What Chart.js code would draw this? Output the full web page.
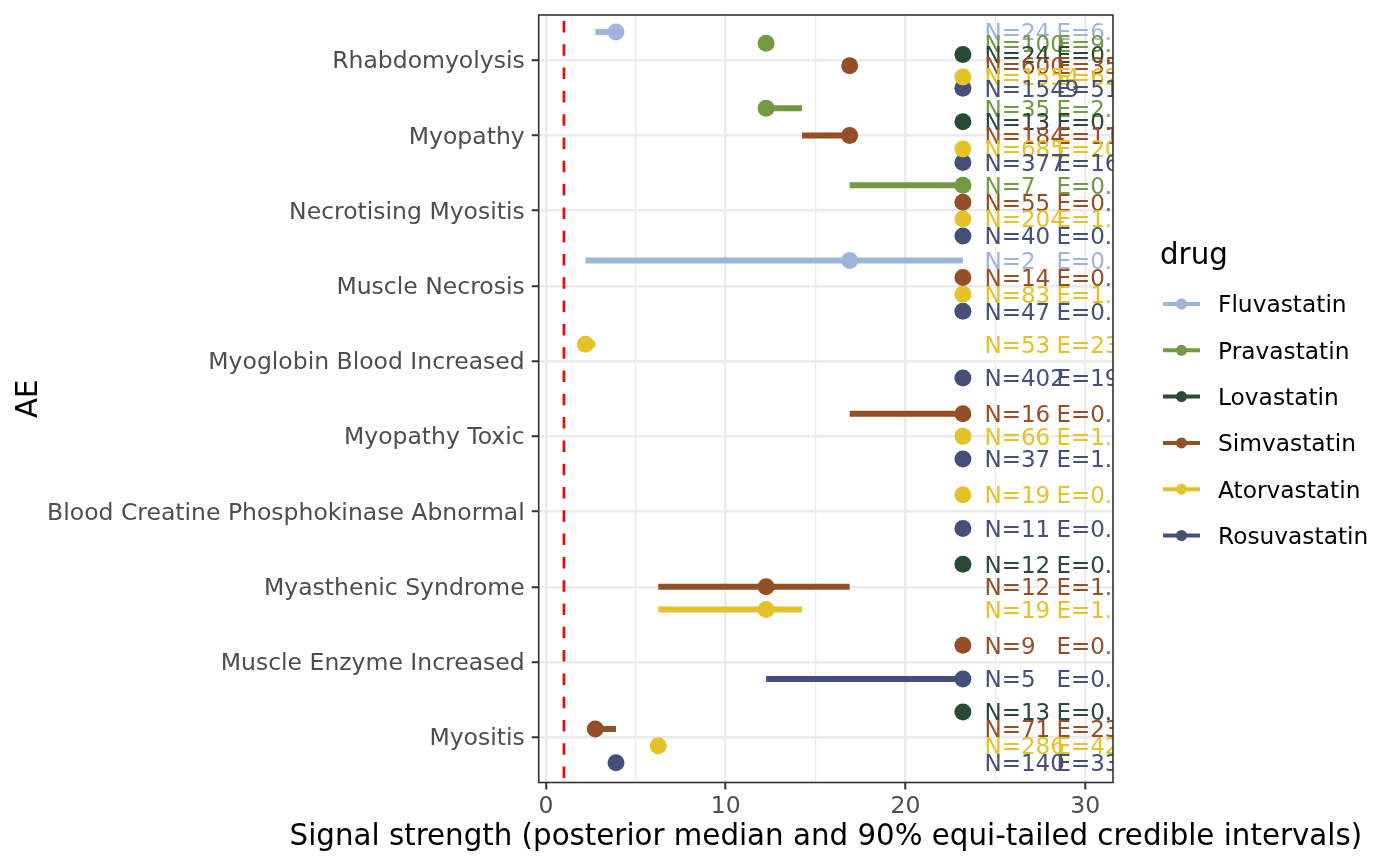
<!DOCTYPE html>
<html><head><meta charset="utf-8">
<script src="https://cdn.jsdelivr.net/npm/chart.js@4.4.1/dist/chart.umd.min.js"></script>
<style>html,body{margin:0;padding:0;background:#fff;} canvas{display:block;}</style>
</head><body>
<canvas id="c" width="1400" height="866"></canvas>
<script>
const categories = ["Rhabdomyolysis","Myopathy","Necrotising Myositis","Muscle Necrosis","Myoglobin Blood Increased","Myopathy Toxic","Blood Creatine Phosphokinase Abnormal","Myasthenic Syndrome","Muscle Enzyme Increased","Myositis"];
const drugs = ["Fluvastatin","Pravastatin","Lovastatin","Simvastatin","Atorvastatin","Rosuvastatin"];
const drugColors = ["#9EB4DB","#729A41","#294A37","#954F26","#E5C12A","#45507A"];
const xTicks = [0,5,10,15,20,25,30];
const xMajor = [0,10,20,30];
const refLine = 1;
const labelNX = 24.4;
const labelEX = 28.4;
const xTitle = "Signal strength (posterior median and 90% equi-tailed credible intervals)";
const yTitle = "AE";
const legendTitle = "drug";

// one entry per (AE, drug) record
const recAE =     [0,0,0,0,0,0, 1,1,1,1,1, 2,2,2,2, 3,3,3,3, 4,4, 5,5,5, 6,6, 7,7,7, 8,8, 9,9,9,9];
const recDrug =   [0,1,2,3,4,5, 1,2,3,4,5, 1,3,4,5, 0,3,4,5, 4,5, 3,4,5, 4,5, 2,3,4, 3,5, 2,3,4,5];
const recMedian = [3.9,12.25,23.2,16.9,23.2,23.2, 12.25,23.2,16.9,23.2,23.2, 23.2,23.2,23.2,23.2, 16.9,23.2,23.2,23.2, 2.2,23.2, 23.2,23.2,23.2, 23.2,23.2, 23.2,12.25,12.25, 23.2,23.2, 23.2,2.75,6.25,3.9];
const recLow =    [2.75,12.25,23.2,16.9,23.2,23.2, 12.25,23.2,14.25,23.2,23.2, 16.9,23.2,23.2,23.2, 2.2,23.2,23.2,23.2, 2.2,23.2, 16.9,23.2,23.2, 23.2,23.2, 23.2,6.25,6.25, 23.2,12.25, 23.2,2.75,6.25,3.9];
const recHigh =   [3.9,12.25,23.2,16.9,23.2,23.2, 14.25,23.2,16.9,23.2,23.2, 23.2,23.2,23.2,23.2, 23.2,23.2,23.2,23.2, 2.75,23.2, 23.2,23.2,23.2, 23.2,23.2, 23.2,16.9,14.25, 23.2,23.2, 23.2,3.9,6.25,3.9];
const recN =      [24,100,24,600,1554,1549, 35,13,184,685,377, 7,55,204,40, 2,14,83,47, 53,402, 16,66,37, 19,11, 12,12,19, 9,5, 13,71,286,140];
const recE =      ["6.15","9.42","0.87","35.5","62.1","51.3", "2.71","0.59","11.3","20.4","16.8", "0.22","0.91","1.63","0.74", "0.08","0.38","1.21","0.66", "23.4","19.5", "0.41","1.54","1.12", "0.53","0.46", "0.37","1.08","1.35", "0.27","0.18", "0.71","23.7","42.6","33.8"];

const FONT = "'DejaVu Sans'";
Chart.defaults.font.family = FONT;

// dodge positions (width 0.9) within each AE
const recPos = recAE.map((ae, k) => {
  const group = recAE.map((a, j) => a === ae ? j : -1).filter(j => j >= 0);
  const n = group.length, i = group.indexOf(k);
  return (ae + 1) + (i - (n - 1) / 2) * 0.9 / n;
});

const datasets = [];
datasets.push({type:'line', data:[{x:refLine,y:0.4},{x:refLine,y:10.6}], borderColor:'#FF0000', borderWidth:2.6,
  borderDash:[11.5,11.8], borderDashOffset:17.3, pointRadius:0, order:100});
recAE.forEach((ae, k) => {
  if (recHigh[k] > recLow[k]) {
    datasets.push({type:'line', data:[{x:recLow[k],y:recPos[k]},{x:recHigh[k],y:recPos[k]}],
      borderColor:drugColors[recDrug[k]], borderWidth:6, borderCapStyle:'butt', pointRadius:0, order:50});
  }
});
drugs.forEach((d, di) => {
  const pts = [];
  recAE.forEach((ae, k) => { if (recDrug[k] === di) pts.push({x:recMedian[k], y:recPos[k]}); });
  datasets.push({type:'scatter', label:d, data:pts, backgroundColor:drugColors[di], borderWidth:0,
    pointRadius:8.5, pointHoverRadius:8.5, order:10});
});

const textPlugin = {
  id:'textLabels',
  afterDatasetsDraw(chart) {
    const {ctx, chartArea:a, scales:{x, y}} = chart;
    const fs = 23;
    ctx.save();
    ctx.beginPath(); ctx.rect(a.left, a.top, a.right - a.left, a.bottom - a.top); ctx.clip();
    ctx.font = fs + "px " + FONT; ctx.textAlign = 'left'; ctx.textBaseline = 'alphabetic';
    recAE.forEach((ae, k) => {
      const py = y.getPixelForValue(recPos[k]) + 0.3645 * fs;
      ctx.fillStyle = drugColors[recDrug[k]];
      ctx.fillText('N=' + recN[k], x.getPixelForValue(labelNX), py);
      ctx.fillText('E=' + recE[k], x.getPixelForValue(labelEX), py);
    });
    ctx.restore();
  },
  afterDraw(chart) {
    const {ctx, chartArea:a} = chart;
    ctx.save();
    ctx.strokeStyle = '#333333'; ctx.lineWidth = 1.6;
    ctx.strokeRect(a.left, a.top, a.right - a.left, a.bottom - a.top);
    // axis titles
    ctx.fillStyle = '#000'; ctx.font = "29.3px " + FONT;
    ctx.textAlign = 'center'; ctx.textBaseline = 'middle';
    ctx.fillText(xTitle, (a.left + a.right) / 2, 837);
    ctx.save();
    ctx.translate(29, (a.top + a.bottom) / 2); ctx.rotate(-Math.PI / 2);
    ctx.fillText(yTitle, 0, 0);
    ctx.restore();
    // legend
    const lx = a.right + 47;
    ctx.textAlign = 'left'; ctx.textBaseline = 'alphabetic';
    ctx.fillText(legendTitle, lx, 263.5);
    ctx.font = "23.3px " + FONT;
    drugs.forEach((d, i) => {
      const cy = 304 + i * 46.3;
      ctx.strokeStyle = drugColors[i]; ctx.lineWidth = 4; ctx.lineCap = 'butt';
      ctx.beginPath(); ctx.moveTo(lx + 3, cy); ctx.lineTo(lx + 40, cy); ctx.stroke();
      ctx.fillStyle = drugColors[i];
      ctx.beginPath(); ctx.arc(lx + 21.5, cy, 5.5, 0, Math.PI * 2); ctx.fill();
      ctx.fillStyle = '#000';
      ctx.fillText(d, lx + 58, cy + 0.3645 * 23.3);
    });
    ctx.restore();
  }
};

new Chart(document.getElementById('c'), {
  data: {datasets},
  plugins: [textPlugin],
  options: {
    responsive:false, animation:false, devicePixelRatio:1, events:[],
    layout:{padding:{left:0, right:287, top:15, bottom:0}},
    plugins:{legend:{display:false}, tooltip:{enabled:false}},
    scales:{
      x:{type:'linear', min:-0.4, max:31.55, bounds:'data',
        afterBuildTicks: s => { s.ticks = xTicks.map(v => ({value:v})); },
        afterFit: s => { s.height = 83.5; s.paddingLeft = 0; s.paddingRight = 0; },
        ticks:{autoSkip:false, maxRotation:0, color:'#4D4D4D', font:{size:23.5, family:FONT}, padding:3,
          callback: v => xMajor.includes(v) ? String(v) : ''},
        grid:{color:'#EBEBEB',
          lineWidth: c => (c.tick && !xMajor.includes(c.tick.value)) ? 1.3 : 2.5,
          tickLength:7, tickWidth:2,
          tickColor: c => (c.tick && !xMajor.includes(c.tick.value)) ? 'rgba(0,0,0,0)' : '#333333'},
        border:{display:false},
        title:{display:false}
      },
      y:{type:'linear', reverse:true, min:0.4, max:10.6, bounds:'data',
        afterBuildTicks: s => { s.ticks = categories.map((c, i) => ({value:i + 1})); },
        afterFit: s => { s.width = 538.7; s.paddingTop = 0; s.paddingBottom = 0; },
        ticks:{autoSkip:false, color:'#4D4D4D', font:{size:23.5, family:FONT}, padding:7, labelOffset:2,
          callback: v => categories[v - 1] || ''},
        grid:{color:'#EBEBEB', lineWidth:2.5, tickLength:7, tickWidth:2, tickColor:'#333333'},
        border:{display:false},
        title:{display:false}
      }
    }
  }
});
</script>
</body></html>
